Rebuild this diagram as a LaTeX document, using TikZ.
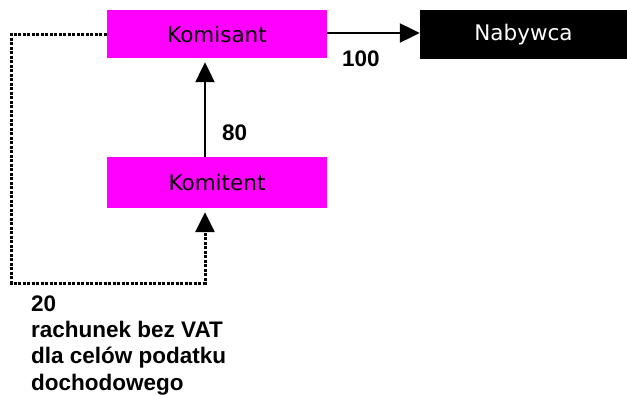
\documentclass[tikz,border=0pt]{standalone}
\usepackage{fontspec}
\setmainfont{Liberation Sans}
\newfontfamily\boxfont{DejaVu Sans}
\usetikzlibrary{arrows.meta}
\definecolor{boxmagenta}{RGB}{255,0,255}
\tikzset{
  party/.style={rectangle, inner sep=0pt, minimum width=220pt, minimum height=48pt,
    fill=boxmagenta, font=\boxfont\fontsize{21.5}{25}\selectfont, text=black},
  buyer/.style={party, fill=black, text=white, minimum width=207pt, minimum height=49pt},
  flow/.style={line width=2.2pt, -{Triangle[length=20pt,width=19pt]}},
  taxflow/.style={line width=3pt, dash pattern=on 3pt off 1.5pt, line join=miter,
    -{Triangle[length=20pt,width=19pt]}},
  amount/.style={anchor=base west, inner sep=0pt, font=\bfseries\fontsize{22.5}{26}\selectfont},
}
\begin{document}
\begin{tikzpicture}[x=1pt, y=-1pt]
  \useasboundingbox (0,0) rectangle (627,394);

  % parties
  \node[party] (komisant) at (217,34) {Komisant};
  \node[party, minimum height=51pt] (komitent) at (217,182.5) {Komitent};
  \node[buyer] (nabywca) at (523.5,34.5) {Nabywca};

  % attachment points of the vertical connectors
  \coordinate (kmsBottom) at ([xshift=-12pt]komisant.south);
  \coordinate (kmtTop) at ([xshift=-12pt]komitent.north);
  \coordinate (kmtBottom) at ([xshift=-12pt]komitent.south);

  % sale to the buyer
  \draw[flow] ([yshift=1pt]komisant.east) -- ([yshift=1pt]komisant.east -| nabywca.west);
  \node[amount] (l100) at (342,66.5) {100};

  % payment passed on to the principal side
  \draw[flow, shorten >=4pt] (kmtTop) -- (kmsBottom);
  \node[amount] (l80) at (222,140) {80};

  % invoice loop for income tax
  \coordinate (loop) at (11.5,283);
  \draw[taxflow, shorten >=4pt] (komisant.west) -- (komisant.west -| loop) -- (loop)
    -- (loop -| kmtBottom) -- (kmtBottom);

  \node[amount] (t1) at (31,311) {20};
  \node[amount] (t2) at (31,337.5) {rachunek bez VAT};
  \node[amount] (t3) at (31,363.5) {dla celów podatku};
  \node[amount] (t4) at (31,390) {dochodowego};
\end{tikzpicture}
\end{document}
